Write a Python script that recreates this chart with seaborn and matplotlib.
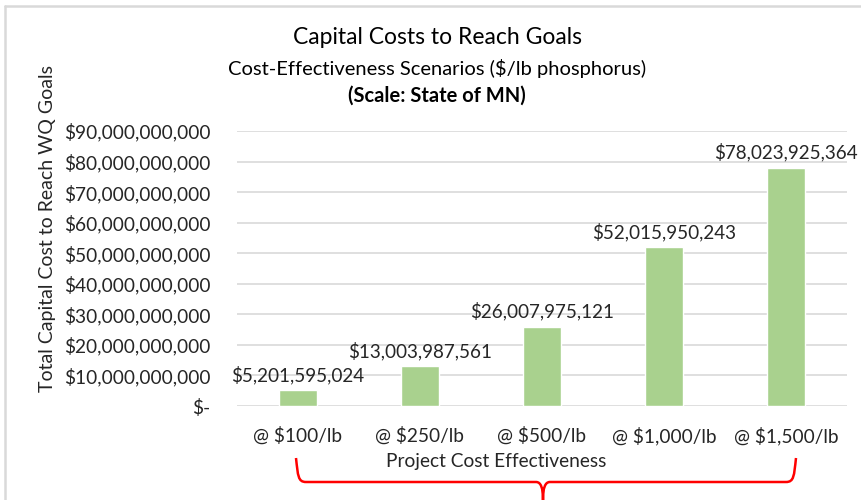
import matplotlib
matplotlib.use("Agg")
import matplotlib.pyplot as plt
import seaborn as sns
import pandas as pd
from matplotlib.path import Path
from matplotlib.patches import PathPatch
from matplotlib.lines import Line2D
from matplotlib.ticker import FuncFormatter

scenarios = ["@ $100/lb", "@ $250/lb", "@ $500/lb", "@ $1,000/lb", "@ $1,500/lb"]
capital_cost = [5201595024, 13003987561, 26007975121, 52015950243, 78023925364]

df = pd.DataFrame({"scenario": scenarios, "cost": capital_cost})

sns.set_theme(style="white")
plt.rcParams["font.family"] = ["Lato", "DejaVu Sans"]

fig = plt.figure(figsize=(8.62, 5), dpi=100)
ax = fig.add_axes([237 / 862, 94 / 500, 610 / 862, 275 / 500])

sns.barplot(data=df, x="scenario", y="cost", color="#A9D18E", width=0.31,
            saturation=1, ax=ax)

ax.set_ylim(0, 90e9)
ax.set_yticks([i * 10e9 for i in range(10)])
ax.yaxis.set_major_formatter(FuncFormatter(
    lambda v, p: "$-" if v == 0 else f"${v:,.0f}"))
ax.grid(axis="y", color="#D9D9D9", linewidth=1.2)
ax.set_axisbelow(True)
for s in ax.spines.values():
    s.set_visible(False)
ax.tick_params(axis="y", labelsize=13.8, pad=19, length=0, colors="#262626")
ax.tick_params(axis="x", labelsize=13.8, pad=15, length=0, colors="#262626")
ax.set_xlabel("")
ax.set_ylabel("")

for i, v in enumerate(capital_cost):
    ax.text(i, v + 2.0e9, f"${v:,.0f}", ha="center", va="bottom",
            fontsize=13.6, color="#262626")

# titles
fig.text(0.507, 1 - 38 / 500, "Capital Costs to Reach Goals", ha="center",
         va="center", fontsize=16.5, color="black")
fig.text(0.507, 1 - 68 / 500, "Cost-Effectiveness Scenarios ($/lb phosphorus)",
         ha="center", va="center", fontsize=14.5, color="black")
fig.text(0.507, 1 - 96 / 500, "(Scale: State of MN)", ha="center",
         va="center", fontsize=14.5, fontweight="bold", color="black")

fig.text(48 / 862, 1 - 229 / 500, "Total Capital Cost to Reach WQ Goals",
         rotation=90, ha="center", va="center", fontsize=14, color="#262626")
fig.text(496 / 862, 1 - 461 / 500, "Project Cost Effectiveness",
         ha="center", va="center", fontsize=13.8, color="#262626")

# red curly brace under the axis
H = 500.0
W = 862.0
pts = [(296, 458), (298, 476), (298, 482), (306, 482),
       (536, 482), (541, 482), (543, 488), (543, 500),
       (543, 488), (545, 482), (550, 482),
       (786, 482), (794, 482), (794, 476), (796, 458)]
codes = [Path.MOVETO, Path.CURVE4, Path.CURVE4, Path.CURVE4,
         Path.LINETO, Path.CURVE4, Path.CURVE4, Path.CURVE4,
         Path.CURVE4, Path.CURVE4, Path.CURVE4,
         Path.LINETO, Path.CURVE4, Path.CURVE4, Path.CURVE4]
verts = [(x / W, 1 - y / H) for x, y in pts]
brace = PathPatch(Path(verts, codes), facecolor="none", edgecolor="#FF0000",
                  linewidth=1.8, transform=fig.transFigure)
fig.patches.append(brace)

# light chart border (top and left edges visible)
fig.lines.append(Line2D([5.5 / W, 1], [1 - 5.5 / H, 1 - 5.5 / H],
                        transform=fig.transFigure, color="#D9D9D9", linewidth=1.8))
fig.lines.append(Line2D([5.5 / W, 5.5 / W], [0, 1 - 5.5 / H],
                        transform=fig.transFigure, color="#D9D9D9", linewidth=1.8))

fig.savefig("out.png", dpi=100)
